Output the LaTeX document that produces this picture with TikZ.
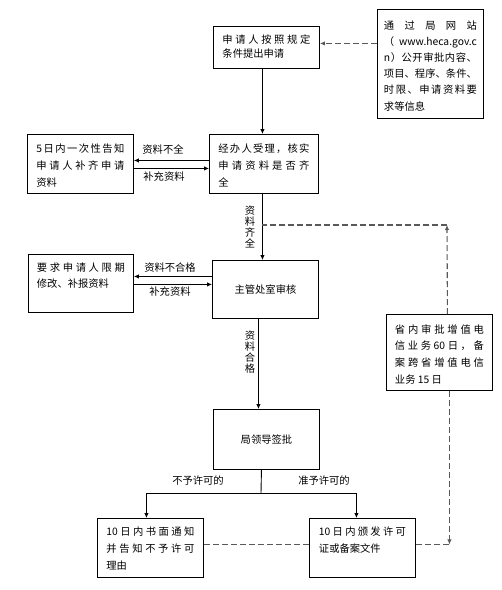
\documentclass[tikz,border=0pt]{standalone}
\usepackage{fontspec}
\setmainfont{Noto Sans CJK SC}
\usetikzlibrary{arrows.meta}
\makeatletter
\def\jl#1{\leavevmode\hbox to\linewidth{\jl@a#1\jl@end}}
\def\jl@end{\jl@end@}
\def\jl@a#1{#1\futurelet\jl@next\jl@b}
\def\jl@b{\ifx\jl@next\jl@end\expandafter\@gobble\else\hfil\expandafter\jl@a\fi}
\makeatother
% width, height, top gap, side pad, line skip, lines
\newcommand\bx[6]{\parbox[c][#2][t]{#1}{\vspace*{#3}\hspace*{#4}\parbox[t]{\dimexpr#1-#4-#4\relax}{\baselineskip=#5\relax #6}}}
\begin{document}
\begin{tikzpicture}[x=1pt,y=-1pt, font=\fontsize{10.3}{16.5}\selectfont,
 box/.style={draw, line width=0.9pt, inner sep=0pt, anchor=north west},
 arr/.style={line width=0.9pt, -{Latex[length=5pt,width=4.5pt]}},
 ln/.style={line width=0.9pt},
 dsh/.style={line width=1.1pt, draw=black!65, dash pattern=on 6pt off 3pt},
 dsharr/.style={dsh, -{Latex[length=5pt,width=4.5pt]}},
 lbl/.style={inner sep=0pt},
 vlbl/.style={inner sep=0pt, align=center, font=\fontsize{10.3}{11}\selectfont}]
\useasboundingbox (0,0) rectangle (502,590);
\node[box] (A) at (213,26) {\bx{106pt}{42pt}{8pt}{9pt}{14pt}{\jl{申请人按照规定}\\条件提出申请}};
\node[box] (B) at (377,9) {\bx{106pt}{109pt}{11pt}{6.5pt}{16.2pt}{\jl{通过局网站}\\\makebox[\linewidth][s]{（ www.heca.gov.c}\\\jl{n）公开审批内容、}\\\jl{项目、程序、条件、}\\\jl{时限、申请资料要}\\求等信息}};
\node[box] (C) at (209,134) {\bx{109pt}{59pt}{9pt}{9pt}{17pt}{\jl{经办人受理，核实}\\\jl{申请资料是否齐}\\全}};
\node[box] (D) at (27,134) {\bx{106pt}{59pt}{9pt}{9pt}{17pt}{\jl{{5} 日内一次性告知}\\\jl{申请人补齐申请}\\资料}};
\node[box, minimum width=106pt, minimum height=58pt] (E) at (212,260) {主管处室审核};
\node[box] (F) at (28,254) {\bx{105pt}{58pt}{8pt}{8.5pt}{16pt}{\jl{要求申请人限期}\\修改、补报资料}};
\node[box] (G) at (386,314) {\bx{106pt}{76pt}{10pt}{8.5pt}{16.7pt}{\jl{省内审批增值电}\\\jl{信业务 {60} 日，备}\\\jl{案跨省增值电信}\\业务 15 日}};
\node[box, minimum width=106pt, minimum height=60pt] (H) at (213,409) {局领导签批};
\node[box] (I) at (97,518) {\bx{106pt}{59pt}{8pt}{9pt}{17pt}{\jl{{10} 日内书面通知}\\\jl{并告知不予许可}\\理由}};
\node[box] (J) at (309,518) {\bx{106pt}{59pt}{8pt}{9.5pt}{17pt}{\jl{{10} 日内颁发许可}\\证或备案文件}};
% B -> A
\coordinate (a1) at ([yshift=4pt]A.east);
\draw[dsharr] (B.west |- a1) -- (a1);
% A -> C
\coordinate (a2) at ([xshift=-4pt]A.south);
\draw[arr] (a2) -- (a2 |- C.north);
% C <-> D
\coordinate (c1) at ([yshift=3.5pt]C.west);
\draw[arr] (c1) -- (c1 -| D.east);
\coordinate (c2) at ([yshift=-4.5pt]C.west);
\draw[arr] (c2 -| D.east) -- (c2);
\node[lbl] (l1) at (163,150) {资料不全};
\node[lbl] (l2) at (164,177) {补充资料};
% C -> E
\coordinate (c3) at ([xshift=-1.5pt]C.south);
\draw[arr] (c3) -- (c3 |- E.north);
\node[vlbl] (v1) at (250,227) {资\\料\\齐\\全};
% G -> dashed up
\coordinate (g1) at ([xshift=8pt]G.north);
\coordinate (k1) at (447,225);
\draw[dsharr] (g1) -- (k1);
\draw[dsh] (k1) -- (c3 |- k1);
% E <-> F
\coordinate (e1) at ([yshift=13pt]E.west);
\draw[arr] (e1) -- (e1 -| F.east);
\coordinate (e2) at ([yshift=5pt]E.west);
\draw[arr] (e2 -| F.east) -- (e2);
\node[lbl] (l3) at (170,268) {资料不合格};
\node[lbl] (l4) at (170,292) {补充资料};
% E -> H
\coordinate (e3) at ([xshift=-7pt]E.south);
\draw[arr] (e3) -- (e3 |- H.north);
\node[vlbl] (v2) at (250,352) {资\\料\\合\\格};
% H -> I, J
\coordinate (h1) at ([xshift=-5pt]H.south);
\coordinate (br) at (261,493);
\draw[ln] (h1) -- (br);
\coordinate (i1) at ([xshift=-4pt]I.north);
\coordinate (j1) at ([xshift=-6pt]J.north);
\draw[arr] (br) -| (i1);
\draw[arr] (br) -| (j1);
\node[lbl] (l5) at (198,481) {不予许可的};
\node[lbl] (l6) at (324,481) {准予许可的};
% I - J dashed
\coordinate (i2) at ([yshift=3.5pt]I.east);
\draw[dsh] (i2) -- (i2 -| J.west);
% G -> J dashed
\coordinate (g2) at ([xshift=10pt]G.south);
\draw[dsharr] (g2) -- (g2 |- i2);
\draw[dsh] (g2 |- i2) -- (i2 -| J.east);
\end{tikzpicture}
\end{document}
